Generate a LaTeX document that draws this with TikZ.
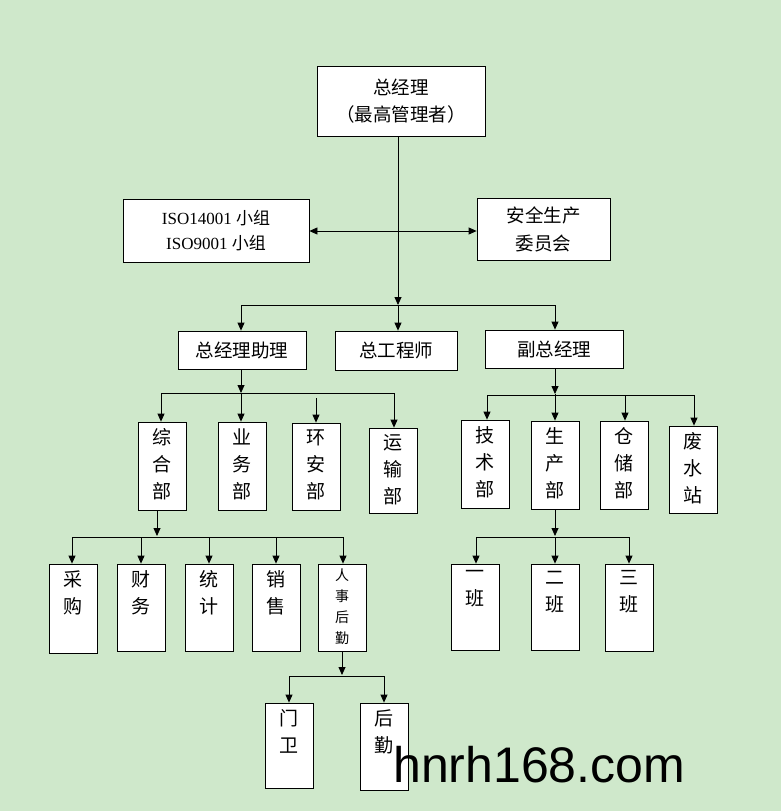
\documentclass[tikz,border=0pt]{standalone}
\usepackage{fontspec}
\setmainfont{Liberation Serif}
\newfontfamily\cjk{Noto Sans CJK SC}
\newfontfamily\wm{Liberation Sans}
\usetikzlibrary{arrows.meta,calc}
\definecolor{bg}{HTML}{CFE8CB}
\begin{document}
\begin{tikzpicture}[x=1pt,y=-1pt,
  box/.style={draw,fill=white,line width=0.8pt,inner sep=0pt},
  ln/.style={line width=0.8pt},
  ar/.style={ln,-{Triangle[length=8pt,width=7pt]}}]
\fill[bg] (0,0) rectangle (781,811);
\useasboundingbox (0,0) rectangle (781,811);
\newcommand\bx[6]{\node[#6,minimum width=#4-#2,minimum height=#5-#3] (#1) at ({(#2+#4)/2},{(#3+#5)/2}) {};}
% boxes
\bx{top}{317}{66}{485}{136}{box}
\node[font=\cjk\fontsize{18.5}{27}\selectfont,align=center] at (top) {总经理\\（最高管理者）};
\bx{iso}{123}{199}{309}{262}{box}
\node[font=\fontsize{17}{25}\selectfont,align=center] at (iso) {ISO14001 {\cjk 小组}\\ISO9001 {\cjk 小组}};
\bx{aq}{477}{198}{610}{260}{box}
\node[font=\cjk\fontsize{18.5}{28}\selectfont,align=center] at (aq) {安全生产\\委员会};
\bx{zl}{178}{331}{306}{369}{box}\node[font=\cjk\fontsize{18.5}{26}\selectfont] at (zl) {总经理助理};
\bx{zg}{335}{331}{457}{370}{box}\node[font=\cjk\fontsize{18.5}{26}\selectfont] at (zg) {总工程师};
\bx{fz}{485}{330}{623}{368}{box}\node[font=\cjk\fontsize{18.5}{26}\selectfont] at (fz) {副总经理};
% vertical boxes
\newcommand\vb[6]{\bx{#1}{#2}{#3}{#4}{#5}{box}\node[font=\cjk\fontsize{19}{27}\selectfont,align=center,anchor=north,inner sep=0pt] at ($(#1.north)+(0,7)$) {#6};}
\vb{zh}{138}{422}{186}{510}{综\\合\\部}
\vb{yw}{218}{422}{266}{510}{业\\务\\部}
\vb{ha}{292}{423}{340}{510}{环\\安\\部}
\vb{ys}{369}{428}{417}{513}{运\\输\\部}
\vb{js}{461}{420}{509}{508}{技\\术\\部}
\vb{sc}{531}{421}{579}{509}{生\\产\\部}
\vb{cc}{600}{421}{648}{509}{仓\\储\\部}
\vb{fs}{669}{426}{717}{513}{废\\水\\站}
\vb{cg}{49}{564}{97}{653}{采\\购}
\vb{cw}{117}{564}{165}{651}{财\\务}
\vb{tj}{185}{564}{233}{651}{统\\计}
\vb{xs}{252}{564}{300}{651}{销\\售}
\bx{rs}{318}{564}{366}{651}{box}
\node[font=\cjk\fontsize{14}{21}\selectfont,align=center,anchor=north,inner sep=0pt] at ($(rs.north)+(0,5)$) {人\\事\\后\\勤};
\vb{b1}{451}{564}{499}{650}{一\\班}
\vb{b2}{531}{564}{579}{650}{二\\班}
\vb{b3}{605}{564}{653}{651}{三\\班}
\vb{mw}{265}{703}{313}{788}{门\\卫}
\vb{hq}{360}{703}{408}{790}{后\\勤}
% connectors
\coordinate (j1) at (398,305);
\coordinate (jm) at (398,231);
\draw[ar] (top.south-|j1) -- (j1);
\draw[ar] (jm) -- (jm-|iso.east);
\draw[ar] (jm) -- (jm-|aq.west);
\draw[ln] (241,305) -- (555,305);
\draw[ar] (241,305) -- (zl.north-|241,0);
\draw[ar] (j1) -- (zg.north-|398,0);
\draw[ar] (555,305) -- (fz.north-|555,0);
% level 3 left
\coordinate (j2) at (241,393);
\draw[ar] (zl.south-|241,0) -- (j2);
\draw[ln] (161,393) -- (395,393);
\draw[ar] (161,393) -- (zh.north-|161,0);
\draw[ar] (j2) -- (yw.north-|241,0);
\draw[ar] (316,398) -- (ha.north-|316,0);
\draw[ar] (394,393) -- (ys.north-|394,0);
% level 3 right
\coordinate (j3) at (555,394);
\draw[ar] (fz.south-|555,0) -- (j3);
\draw[ln] (487,395) -- (695,395);
\draw[ar] (487,395) -- (js.north-|487,0);
\draw[ar] (j3) -- (sc.north-|555,0);
\draw[ar] (625,395) -- (cc.north-|625,0);
\draw[ar] (694,395) -- (fs.north-|694,0);
% level 4
\draw[ar] (zh.south-|157,0) -- (157,536);
\draw[ln] (72,537) -- (344,537);
\draw[ar] (72,537) -- (cg.north-|72,0);
\draw[ar] (141,537) -- (cw.north-|141,0);
\draw[ar] (209,537) -- (tj.north-|209,0);
\draw[ar] (276,537) -- (xs.north-|276,0);
\draw[ar] (343,537) -- (rs.north-|343,0);
\draw[ar] (sc.south-|555,0) -- (555,536);
\draw[ln] (477,537) -- (630,537);
\draw[ar] (476,537) -- (b1.north-|476,0);
\draw[ar] (555,537) -- (b2.north-|555,0);
\draw[ar] (629,537) -- (b3.north-|629,0);
\draw[ar] (rs.south-|342,0) -- (342,675);
\draw[ln] (289,676) -- (384,676);
\draw[ar] (289,676) -- (mw.north-|289,0);
\draw[ar] (384,676) -- (hq.north-|384,0);
\node[font=\wm\fontsize{50}{55}\selectfont,anchor=base west,inner sep=0pt] (wmk) at (393,782) {hnrh168.com};
\end{tikzpicture}
\end{document}
